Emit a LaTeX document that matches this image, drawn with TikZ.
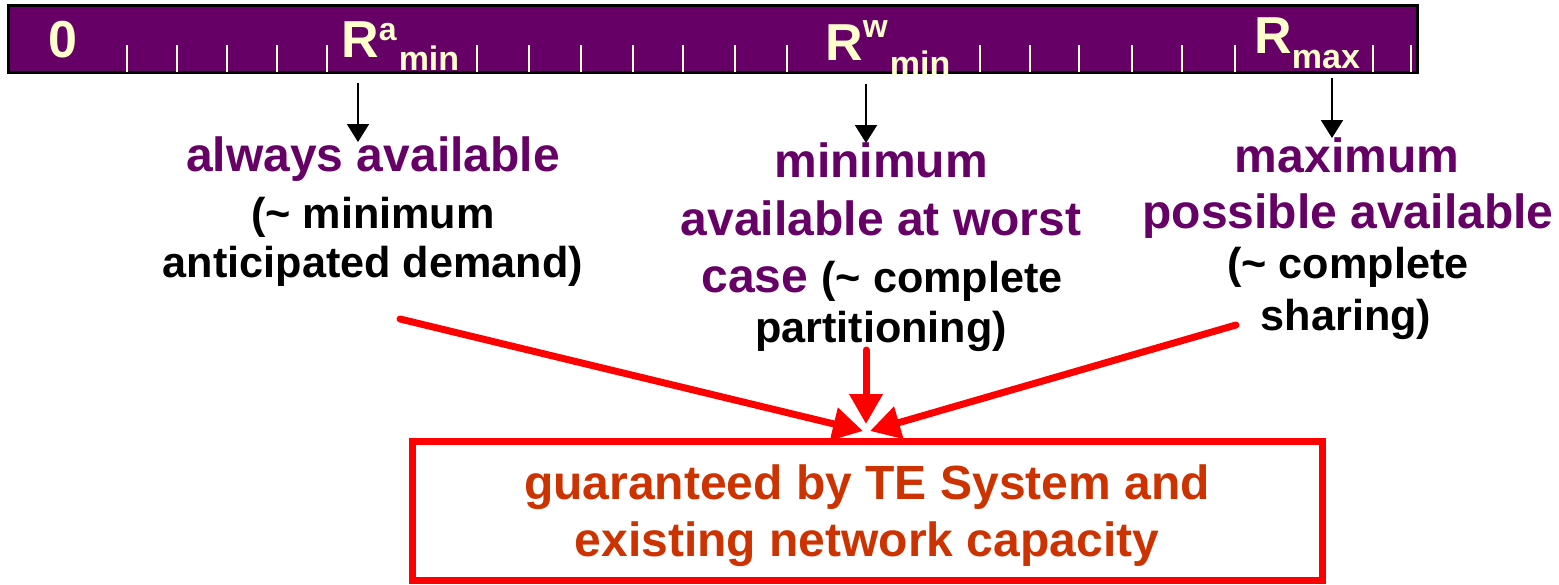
\documentclass[tikz,border=0pt]{standalone}
\usepackage{fontspec}
\setmainfont{Liberation Sans}
\usepackage{xcolor}
\usepackage{tikz}
\usetikzlibrary{arrows.meta}

\definecolor{plum}{HTML}{660066}
\definecolor{cream}{HTML}{FFFFCC}
\definecolor{rust}{HTML}{CC3300}

\begin{document}
\begin{tikzpicture}[
  x=0.5pt, y=-0.5pt,
  head/.style={anchor=base, inner sep=0pt, text=plum, font=\fontsize{24}{28}\selectfont\bfseries},
  note/.style={anchor=base, inner sep=0pt, text=black, font=\fontsize{21.6}{26}\selectfont\bfseries},
  scalelabel/.style={anchor=base west, inner sep=0pt, text=cream, font=\fontsize{26}{30}\selectfont\bfseries},
  pointer/.style={-{Triangle[width=11pt,length=9pt]}, line width=1pt},
  feed/.style={-{Triangle[width=16pt,length=15pt]}, line width=3.5pt, draw=red, line cap=round},
  goal/.style={draw=red, line width=3.5pt, minimum width=455pt, minimum height=69.5pt, inner sep=0pt,
    align=center, text=rust, font=\fontsize{24}{28.5}\selectfont\bfseries}
]
\useasboundingbox (0,0) rectangle (1559,584);

% resource scale
\draw[fill=plum, line width=1.5pt] (8,5) rectangle (1417,72);
\foreach \tx in {127,177,227,277,327,477,529,581,633,683,735,787,980,1030,1079,1132,1182,1235,1373,1411}
  \draw[cream, line width=1pt] (\tx,45) -- (\tx,72);

\node[scalelabel, anchor=base] (zero) at (63,57) {0};
\node[scalelabel] (ramin) at (341,57)
  {R\raisebox{8.5pt}{\fontsize{16}{16}\selectfont a}\kern1pt\raisebox{-6.5pt}{\fontsize{17}{17}\selectfont min}};
\node[scalelabel] (rwmin) at (825,60)
  {R\raisebox{11.5pt}{\fontsize{16}{16}\selectfont w}\kern1pt\raisebox{-7.5pt}{\fontsize{17}{17}\selectfont min}};
\node[scalelabel] (rmax) at (1254,53)
  {R\raisebox{-7.5pt}{\fontsize{17}{17}\selectfont max}};

% explanations
\node[head] (alw1) at (373,171) {always available};
\node[note] (alw2) at (373,228) {(\textasciitilde{} minimum};
\node[note] (alw3) at (373,277) {anticipated demand)};

\node[head] (wst1) at (881,177) {minimum};
\node[head] (wst2) at (881,235) {available at worst};
\node[head] (wst3) at (882,292) {case {\fontsize{21.6}{26}\selectfont\color{black}(\textasciitilde{} complete}};
\node[note] (wst4) at (881,342) {partitioning)};

\node[head] (mx1) at (1347,172) {maximum};
\node[head] (mx2) at (1348,228) {possible available};
\node[note] (mx3) at (1348,278) {(\textasciitilde{} complete};
\node[note] (mx4) at (1346,330) {sharing)};

\node[goal] (goal) at (867,510.5)
  {\rule{0pt}{23pt}guaranteed by TE System and\\existing network capacity};

% pointers from the scale
\coordinate (pa) at (358,83);  \coordinate (pa') at (358,142);
\coordinate (pw) at (866,84);  \coordinate (pw') at (866,143);
\coordinate (pm) at (1332,78); \coordinate (pm') at (1332,138);
\draw[pointer] (pa) -- (pa');
\draw[pointer] (pw) -- (pw');
\draw[pointer] (pm) -- (pm');

% feeds into the guarantee
\coordinate (fa) at (400,319);  \coordinate (fa') at (863,431);
\coordinate (fw) at (866,350);  \coordinate (fw') at (866,424);
\coordinate (fm) at (1236,325); \coordinate (fm') at (870,431);
\draw[feed] (fa) -- (fa');
\draw[feed] (fw) -- (fw');
\draw[feed] (fm) -- (fm');
\end{tikzpicture}
\end{document}
